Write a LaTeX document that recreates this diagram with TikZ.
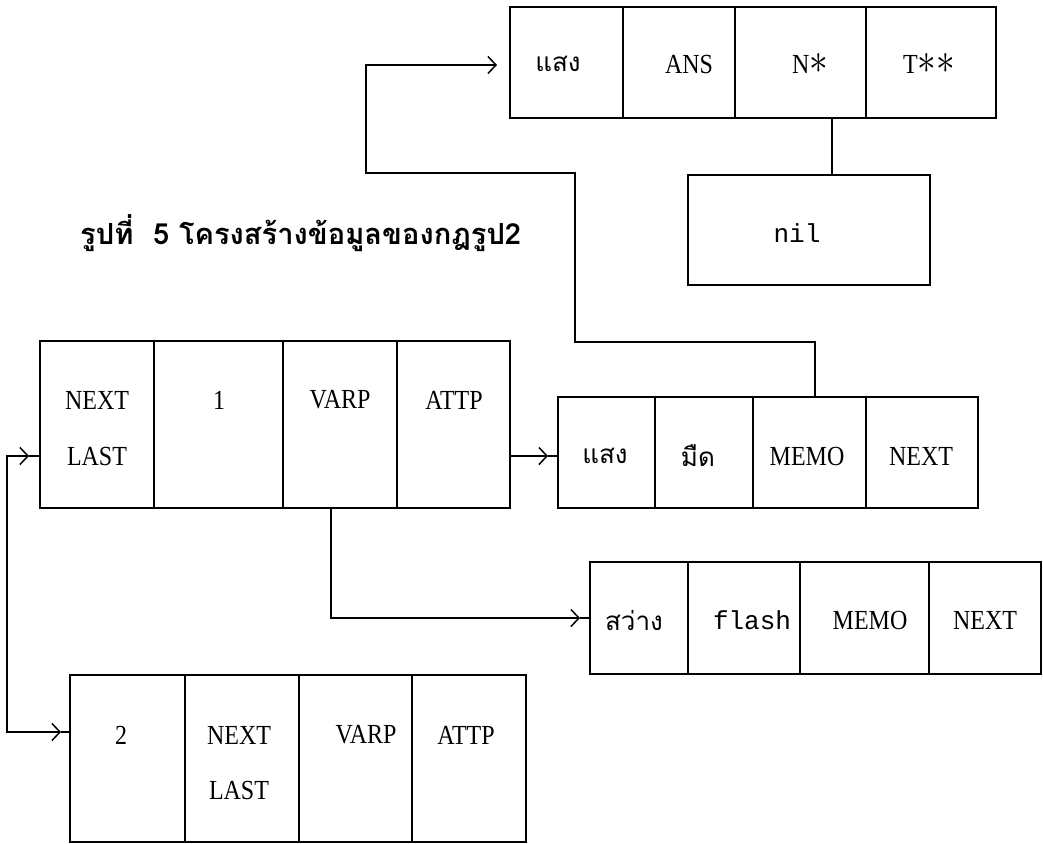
\documentclass[tikz,border=0pt]{standalone}
\usepackage{fontspec}
\usepackage{graphicx}
\setmainfont{Liberation Serif}
\newfontfamily\thaifont[Script=Thai]{Loma}
\newfontfamily\monofont{Liberation Mono}
\usetikzlibrary{arrows.meta,calc}
\tikzset{
  cellbox/.style={draw, line width=1.5pt, inner sep=0pt, outer sep=0pt, rectangle},
  conn/.style={line width=1.5pt},
  arr/.style={conn, -{Straight Barb[length=8pt,width=17pt]}},
  arrboth/.style={conn, {Straight Barb[length=8pt,width=17pt]}-{Straight Barb[length=8pt,width=17pt]}},
  lab/.style={inner sep=0pt, font=\fontsize{24}{24}\selectfont},
  thlab/.style={inner sep=0pt, font=\thaifont\fontsize{26}{26}\selectfont},
  mlab/.style={inner sep=0pt, font=\monofont\fontsize{26}{26}\selectfont},
}
\newcommand{\tl}[1]{\scalebox{1}[1.15]{#1}}
\newcommand{\bigast}{\scalebox{1.5}{$\ast$}}
\newcommand{\mkcell}[5]{\node[cellbox, minimum width={(#4-#2)*1pt}, minimum height={(#5-#3)*1pt}] (#1) at ({(#2+#4)/2},{(#3+#5)/2}) {};}
\begin{document}
\begin{tikzpicture}[x=1pt,y=-1pt]
\useasboundingbox (0,0) rectangle (1043,843);
% top box
\mkcell{T1}{510}{7}{623}{118}
\mkcell{T2}{623}{7}{735}{118}
\mkcell{T3}{735}{7}{866}{118}
\mkcell{T4}{866}{7}{996}{118}
\node[thlab] (lT1) at (558,64) {แสง};
\node[lab] (lT2) at (689,64) {\tl{ANS}};
\node[lab] (lT3) at (810,64) {\tl{N\bigast}};
\node[lab] (lT4) at (929,64) {\tl{T\bigast\bigast}};
% nil
\mkcell{nil}{688}{175}{930}{285}
\node[mlab] (lnil) at (797,233) {nil};
% title
\node[anchor=west, inner sep=0pt] (title) at (80,233) {\resizebox{441pt}{!}{\thaifont\bfseries\fontsize{26}{26}\selectfont รูปที่~~5 โครงสร้างข้อมูลของกฎรูป2}};
% box A
\mkcell{A1}{40}{341}{154}{508}
\mkcell{A2}{154}{341}{283}{508}
\mkcell{A3}{283}{341}{397}{508}
\mkcell{A4}{397}{341}{510}{508}
\node[lab] (lA1a) at (97,400) {\tl{NEXT}};
\node[lab] (lA1b) at (97,456) {\tl{LAST}};
\node[lab] (lA2) at (219,400) {\tl{1}};
\node[lab] (lA3) at (340,400) {\tl{VARP}};
\node[lab] (lA4) at (454,400) {\tl{ATTP}};
% box M
\mkcell{M1}{558}{397}{655}{508}
\mkcell{M2}{655}{397}{753}{508}
\mkcell{M3}{753}{397}{866}{508}
\mkcell{M4}{866}{397}{978}{508}
\node[thlab] (lM1) at (605,456) {แสง};
\node[thlab] (lM2) at (698,456) {มืด};
\node[lab] (lM3) at (807,456) {\tl{MEMO}};
\node[lab] (lM4) at (921,456) {\tl{NEXT}};
% box F
\mkcell{F1}{590}{562}{688}{674}
\mkcell{F2}{688}{562}{800}{674}
\mkcell{F3}{800}{562}{929}{674}
\mkcell{F4}{929}{562}{1041}{674}
\node[thlab] (lF1) at (634,620) {สว่าง};
\node[mlab] (lF2) at (752,620) {flash};
\node[lab] (lF3) at (870,620) {\tl{MEMO}};
\node[lab] (lF4) at (985,620) {\tl{NEXT}};
% box B
\mkcell{B1}{70}{675}{185}{842}
\mkcell{B2}{185}{675}{299}{842}
\mkcell{B3}{299}{675}{412}{842}
\mkcell{B4}{412}{675}{526}{842}
\node[lab] (lB1) at (121,735) {\tl{2}};
\node[lab] (lB2a) at (239,735) {\tl{NEXT}};
\node[lab] (lB2b) at (239,790) {\tl{LAST}};
\node[lab] (lB3) at (366,735) {\tl{VARP}};
\node[lab] (lB4) at (466,735) {\tl{ATTP}};
% connectors
\coordinate (k1) at (815,342);
\coordinate (k2) at (575,173);
\coordinate (k3) at (366,65);
\coordinate (tT) at (497,65);
\draw[arr] (M3.north -| k1) -- (k1) -| (k2) -| (k3) -- (tT);
\coordinate (nx) at (832,0);
\draw[conn] (T3.south -| nx) -- (nil.north -| nx);
\coordinate (tM) at (548,456);
\draw[arr] (A4.east |- tM) -- (tM);
\draw[conn] (tM) -- (M1.west |- tM);
\coordinate (k4) at (331,618);
\coordinate (tF) at (580,618);
\draw[arr] (A3.south -| k4) -- (k4) -- (tF);
\draw[conn] (tF) -- (F1.west |- tF);
\coordinate (tA) at (29,456);
\coordinate (tB) at (61,732);
\coordinate (lc1) at (7,456);
\coordinate (lc2) at (7,732);
\draw[arrboth] (tA) -- (lc1) -- (lc2) -- (tB);
\draw[conn] (tA) -- (A1.west |- tA);
\draw[conn] (tB) -- (B1.west |- tB);
\end{tikzpicture}
\end{document}
